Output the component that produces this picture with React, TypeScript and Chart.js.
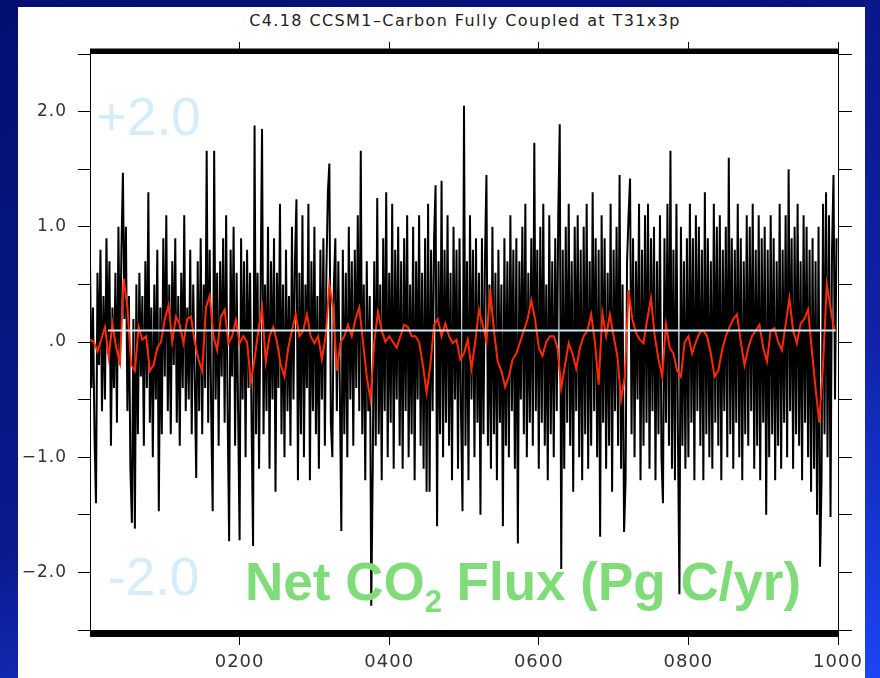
import React, { useEffect, useRef } from 'react';
import { Chart, registerables } from 'chart.js';

Chart.register(...registerables);

// Annual net CO2 flux (Pg C/yr), sampled every 2 model years from year 0
const FLUX_STEP = 2;
const fluxAnnual: number[] = [
  0.7, -0.4, 0.3, -0.8, -1.4, 0.6, -0.2, 0.8, -0.6, 0.4,
  -0.5, 0.9, -0.1, 0.7, -0.9, 0.3, -0.4, 0.6, -0.7, 1.0,
  -0.2, 0.8, 1.47, 0.2, 1.0, -0.6, 0.4, -1.1, -1.57, 0.2,
  -1.62, 0.5, -0.8, 0.6, -0.3, 0.4, -0.9, 0.7, -0.4, 1.3,
  -0.7, 0.3, -1.0, 0.5, -0.5, 0.8, -1.47, 0.3, -0.8, 0.9,
  -0.3, 1.1, -0.6, 0.5, -0.8, 0.7, -0.2, 0.9, -0.7, 0.4,
  -0.9, 0.6, -0.4, 1.1, -0.6, 0.3, -0.5, 0.8, -0.8, 0.5,
  -0.3, -1.18, 0.7, -0.6, 0.9, -0.8, 0.5, -0.4, 1.66, -0.7,
  0.8, -0.6, -1.47, 1.66, -0.5, 0.6, -0.9, 0.7, -0.3, 0.9,
  -0.7, 1.1, -0.6, -1.73, 0.8, -0.3, 1.0, -0.9, 0.6, -0.6,
  -1.72, 0.9, -0.5, 0.7, -1.0, 0.8, -0.4, 0.6, -0.7, -1.77,
  1.88, -0.8, 0.6, -1.1, 0.4, 1.85, -0.8, 0.5, -0.6, 1.0,
  -1.1, 0.7, -0.5, 0.9, -1.3, 0.6, -0.4, 1.2, -0.8, 0.5,
  -1.0, 0.8, -0.6, 0.4, -0.9, 1.0, -0.5, 0.7, 1.24, -1.2,
  0.6, -0.8, 1.1, -1.0, 0.5, -0.4, 1.2, -1.2, 0.7, -0.6,
  1.0, -0.8, 0.4, -1.1, 0.8, -0.5, 0.9, -0.9, 0.6, 1.3,
  1.55, -0.7, -1.0, 0.5, 0.9, -0.6, 0.7, -0.4, -1.64, 0.8,
  -0.8, 0.6, -1.0, 1.0, -0.5, 0.7, -0.9, 0.8, -0.4, 1.1,
  -0.6, 1.66, -0.8, 0.5, -1.2, 0.7, -0.6, 0.4, -2.29, -1.1,
  0.7, -0.9, 1.25, -0.8, 0.5, -1.2, 0.9, -0.6, 1.3, -1.0,
  0.6, -0.7, 1.2, -1.1, 0.8, -0.5, 1.0, -0.9, 0.7, -1.1,
  0.9, -0.6, 1.1, -1.0, 0.5, -0.8, 1.0, -1.2, 0.7, -0.5,
  1.1, -0.9, 0.6, -1.1, 0.9, -1.3, 1.2, -1.3, 0.8, -0.6,
  0.9, 1.36, -1.6, 0.7, -0.8, 1.4, -1.0, 0.8, -0.7, 1.1,
  -0.9, 0.6, -1.2, 1.0, -0.5, 0.8, -1.1, 0.9, -0.6, -1.47,
  2.05, -0.9, 0.7, -1.2, 1.1, -0.5, 0.8, -1.0, 0.9, -0.7,
  0.6, -1.5, 0.9, -0.8, 0.7, 1.45, -0.9, 0.5, -1.1, 1.0,
  -0.8, 0.6, -1.2, 0.8, -0.7, 0.5, -1.6, 0.9, -0.9, 0.7,
  -1.0, 1.1, -0.6, 0.8, -1.1, 0.9, -1.75, 0.7, -0.5, 1.0,
  -0.8, 1.2, -1.0, 0.6, -0.7, 0.9, -0.9, 1.73, -0.6, 0.8,
  -1.1, 1.0, -0.7, 1.2, -0.9, 0.5, -1.2, 1.1, -0.8, 0.7,
  -1.0, 0.9, -0.6, 1.1, 1.89, -1.97, 0.8, -1.1, 1.0, -0.7,
  1.2, -0.9, 0.7, -1.3, 1.0, -0.6, 1.1, -1.0, 0.8, -1.2,
  1.0, -0.8, 1.2, -1.1, 0.7, -0.9, 1.3, -0.6, 0.9, -1.0,
  0.8, -1.69, 1.1, -0.7, 0.9, -1.1, 0.6, -0.9, 1.2, -1.3,
  0.8, -0.6, 1.0, -0.9, 1.45, -1.1, 0.5, -1.65, -1.2, 0.7,
  1.1, 1.42, -0.8, 0.9, -1.0, 0.7, -0.5, 1.2, -1.2, 0.8,
  -0.9, 1.1, -0.7, 1.2, -1.1, 0.9, -0.6, 1.0, -1.2, 0.7,
  -0.8, 1.1, -1.0, -1.4, 0.9, -0.7, 1.2, -0.9, 1.66, -1.1,
  0.8, -1.2, 1.2, -0.8, -2.19, 1.0, -0.9, 0.7, -1.1, 0.9,
  -1.0, 1.2, -0.7, 0.9, -1.2, 1.1, -0.6, 1.0, -0.9, 0.8,
  -1.2, 1.3, -0.8, 0.9, -1.0, 0.7, -1.1, 1.2, -0.7, 1.0,
  -0.9, 1.1, -1.2, 0.8, -0.6, 1.0, -1.0, 1.6, -0.8, 0.9,
  -1.1, 0.8, -0.7, 1.2, -1.0, 0.9, -1.2, 0.7, -0.8, 1.1,
  -0.9, 1.0, -0.6, 1.2, -1.1, 0.8, -0.9, 1.1, -1.2, 0.9,
  -0.7, 1.0, -1.5, 0.8, -1.0, 1.1, -0.8, 0.9, -1.2, 0.7,
  -0.9, 1.2, -1.1, 0.8, -0.7, 1.1, -1.0, 1.5, -0.6, 0.9,
  -1.1, 1.0, -0.8, 1.2, -0.9, 0.7, -1.2, 1.1, -0.7, 1.0,
  -1.0, 0.8, -1.3, 0.9, -1.1, 0.7, -1.5, 1.0, -1.95, -1.2,
  1.2, -0.8, 1.3, -1.0, 1.1, -1.52, 0.8, 1.45, -0.5, 0.9,
];

// Smoothed flux (red curve), sampled every 5 model years from year 0
const SMOOTH_STEP = 5;
const fluxSmoothed: number[] = [
  0.02, 0.0, -0.08, 0.02, 0.13, -0.13, 0.16, -0.05, -0.18, 0.55,
  0.3, -0.2, -0.25, 0.13, 0.02, 0.05, -0.25, -0.2, -0.05, 0.0,
  0.2, 0.32, 0.0, 0.22, 0.15, -0.01, 0.2, 0.22, 0.0, -0.15,
  -0.25, 0.3, 0.4, 0.05, -0.07, 0.22, 0.28, -0.01, 0.05, 0.19,
  -0.01, 0.05, 0.0, -0.35, -0.15, 0.1, 0.3, -0.17, 0.05, 0.13,
  0.0, -0.2, -0.3, -0.05, 0.1, 0.24, 0.05, 0.1, 0.24, 0.05,
  -0.01, 0.05, -0.15, 0.05, 0.5, 0.3, -0.25, 0.0, 0.05, 0.15,
  0.05, 0.2, 0.3, 0.0, -0.3, -0.5, 0.0, 0.26, 0.1, 0.0,
  0.05, 0.0, -0.05, 0.05, 0.15, 0.13, 0.05, 0.05, 0.0, -0.2,
  -0.44, -0.2, 0.15, 0.2, 0.05, 0.16, 0.05, -0.01, 0.02, -0.15,
  -0.1, 0.02, -0.23, 0.0, 0.28, 0.15, 0.0, 0.46, 0.1, -0.17,
  -0.25, -0.39, -0.3, -0.15, -0.1, 0.0, 0.1, 0.2, 0.36, 0.2,
  -0.05, -0.12, 0.0, 0.05, 0.05, -0.05, -0.4, -0.2, -0.01, -0.1,
  -0.23, -0.05, 0.05, 0.1, 0.24, 0.0, -0.37, 0.25, 0.05, 0.24,
  0.05, -0.12, -0.5, -0.3, 0.45, 0.2, 0.08, 0.02, -0.01, 0.2,
  0.38, 0.05, -0.15, -0.3, 0.15, -0.05, -0.1, -0.25, -0.3, 0.0,
  0.05, -0.1, 0.0, 0.08, 0.1, 0.05, -0.1, -0.3, -0.25, -0.07,
  0.05, 0.13, 0.2, 0.24, 0.0, -0.2, -0.05, 0.05, 0.1, 0.15,
  -0.05, -0.17, 0.1, 0.12, 0.0, -0.07, 0.15, 0.38, 0.1, -0.01,
  0.16, 0.2, 0.28, -0.07, -0.4, -0.7, -0.2, 0.5, 0.3, 0.1,
];

// Long-term mean line
const meanFlux = 0.1;
const meanSpanYears = [24, 997];

// Axis ticks
const xTickValues = [200, 400, 600, 800, 1000];
const xTickLabels = ['0200', '0400', '0600', '0800', '1000'];
const yTickValues = [-2, -1, 0, 1, 2];
const yTickLabels = ['\u22122.0', '\u22121.0', '.0', '1.0', '2.0'];

const TITLE = 'C4.18 CCSM1\u2013Carbon Fully Coupled at T31x3p';

const framePlugin = {
  id: 'thickFrame',
  beforeDraw(chart: any) {
    chart.ctx.letterSpacing = '1px';
  },
  afterDraw(chart: any) {
    const { ctx, chartArea } = chart;
    const { left, right, top, bottom } = chartArea;
    ctx.save();
    ctx.fillStyle = '#000';
    ctx.fillRect(left, top - 5.5, right - left + 1, 5.5);
    ctx.fillRect(left, bottom, right - left + 1, 7);
    ctx.restore();
    ctx.letterSpacing = '0px';
  },
};

export default function App() {
  const ref = useRef<HTMLCanvasElement | null>(null);

  useEffect(() => {
    if (!ref.current) return;
    const chart = new Chart(ref.current, {
      type: 'line',
      data: {
        datasets: [
          {
            label: 'mean',
            data: meanSpanYears.map((x) => ({ x, y: meanFlux })),
            borderColor: '#cfe9f9',
            borderWidth: 2,
            pointRadius: 0,
            order: 1,
          },
          {
            label: 'smoothed',
            data: fluxSmoothed.map((y, i) => ({ x: i * SMOOTH_STEP, y })),
            borderColor: '#ff2a00',
            borderWidth: 2,
            pointRadius: 0,
            order: 2,
          },
          {
            label: 'annual',
            data: fluxAnnual.map((y, i) => ({ x: i * FLUX_STEP, y })),
            borderColor: '#000',
            borderWidth: 2,
            pointRadius: 0,
            order: 3,
          },
        ],
      },
      options: {
        animation: false,
        responsive: false,
        events: [],
        layout: { padding: 0 },
        plugins: {
          legend: { display: false },
          tooltip: { enabled: false },
          title: { display: false },
        },
        scales: {
          x: {
            type: 'linear',
            position: 'bottom',
            min: 0,
            max: 1000,
            afterBuildTicks: (s: any) => {
              s.ticks = xTickValues.map((value) => ({ value }));
            },
            ticks: {
              autoSkip: false,
              maxRotation: 0,
              padding: 7,
              color: '#333',
              font: { family: 'DejaVu Sans', size: 18 },
              callback: (v: any) => {
                const i = xTickValues.indexOf(Number(v));
                return i >= 0 ? xTickLabels[i] : '';
              },
            },
            grid: { drawOnChartArea: false, tickLength: 15, color: '#000' },
            border: { display: false },
            afterFit: (s: any) => {
              s.height = 48;
            },
          },
          x2: {
            type: 'linear',
            position: 'top',
            min: 0,
            max: 1000,
            afterBuildTicks: (s: any) => {
              s.ticks = xTickValues.map((value) => ({ value }));
            },
            ticks: { autoSkip: false, maxRotation: 0, callback: () => '', font: { size: 1 } },
            grid: { drawOnChartArea: false, tickLength: 12, color: '#000' },
            border: { display: false },
            afterFit: (s: any) => {
              s.height = 54;
            },
          },
          y: {
            type: 'linear',
            position: 'left',
            min: -2.5,
            max: 2.5,
            ticks: {
              stepSize: 0.5,
              padding: 11,
              color: '#333',
              font: { family: 'DejaVu Sans', size: 17 },
              callback: (v: any) => {
                const i = yTickValues.indexOf(Number(v));
                return i >= 0 ? yTickLabels[i] : '';
              },
            },
            grid: { drawOnChartArea: false, tickLength: 12, color: '#000' },
            border: { display: true, color: '#000', width: 1 },
            afterFit: (s: any) => {
              s.width = 90;
            },
          },
          y2: {
            type: 'linear',
            position: 'right',
            min: -2.5,
            max: 2.5,
            ticks: { stepSize: 0.5, callback: () => '', font: { size: 1 } },
            grid: { drawOnChartArea: false, tickLength: 14, color: '#000' },
            border: { display: true, color: '#000', width: 1 },
            afterFit: (s: any) => {
              s.width = 42;
            },
          },
        },
      },
      plugins: [framePlugin],
    } as any);
    return () => chart.destroy();
  }, []);

  const big: React.CSSProperties = {
    position: 'absolute',
    fontFamily: 'Liberation Sans, Arial, sans-serif',
    fontSize: 53,
    lineHeight: '53px',
    whiteSpace: 'nowrap',
    color: '#d5edfb',
  };

  return (
    <div
      style={{
        position: 'fixed',
        left: 0,
        top: 0,
        width: 880,
        height: 678,
        overflow: 'hidden',
        background: 'linear-gradient(165deg, #030f72 0%, #0a1a8c 60%, #1a42f2 100%)',
      }}
    >
      <div style={{ position: 'absolute', left: 18, top: 7, width: 847, height: 671, background: '#fff' }} />
      <div
        style={{
          position: 'absolute',
          left: 115,
          top: 13,
          width: 700,
          textAlign: 'center',
          fontFamily: 'DejaVu Sans, sans-serif',
          fontSize: 16,
          lineHeight: '16px',
          letterSpacing: '1.4px',
          color: '#222',
          whiteSpace: 'nowrap',
        }}
      >
        {TITLE}
      </div>
      <canvas ref={ref} width={880} height={678} style={{ position: 'absolute', left: 0, top: 0 }} />
      <div
        style={{
          position: 'absolute',
          left: 865,
          top: 0,
          width: 15,
          height: 678,
          background: 'linear-gradient(180deg, #0a1788 0%, #0f23a8 50%, #1b45f4 100%)',
        }}
      />
      <div style={{ ...big, left: 96, top: 90 }}>+2.0</div>
      <div style={{ ...big, left: 108, top: 550 }}>-2.0</div>
      <div
        style={{
          ...big,
          left: 245,
          top: 555,
          fontWeight: 'bold',
          color: '#80dc78',
        }}
      >
        Net CO<span style={{ fontSize: 31, position: 'relative', top: 12 }}>2</span> Flux (Pg C/yr)
      </div>
    </div>
  );
}
